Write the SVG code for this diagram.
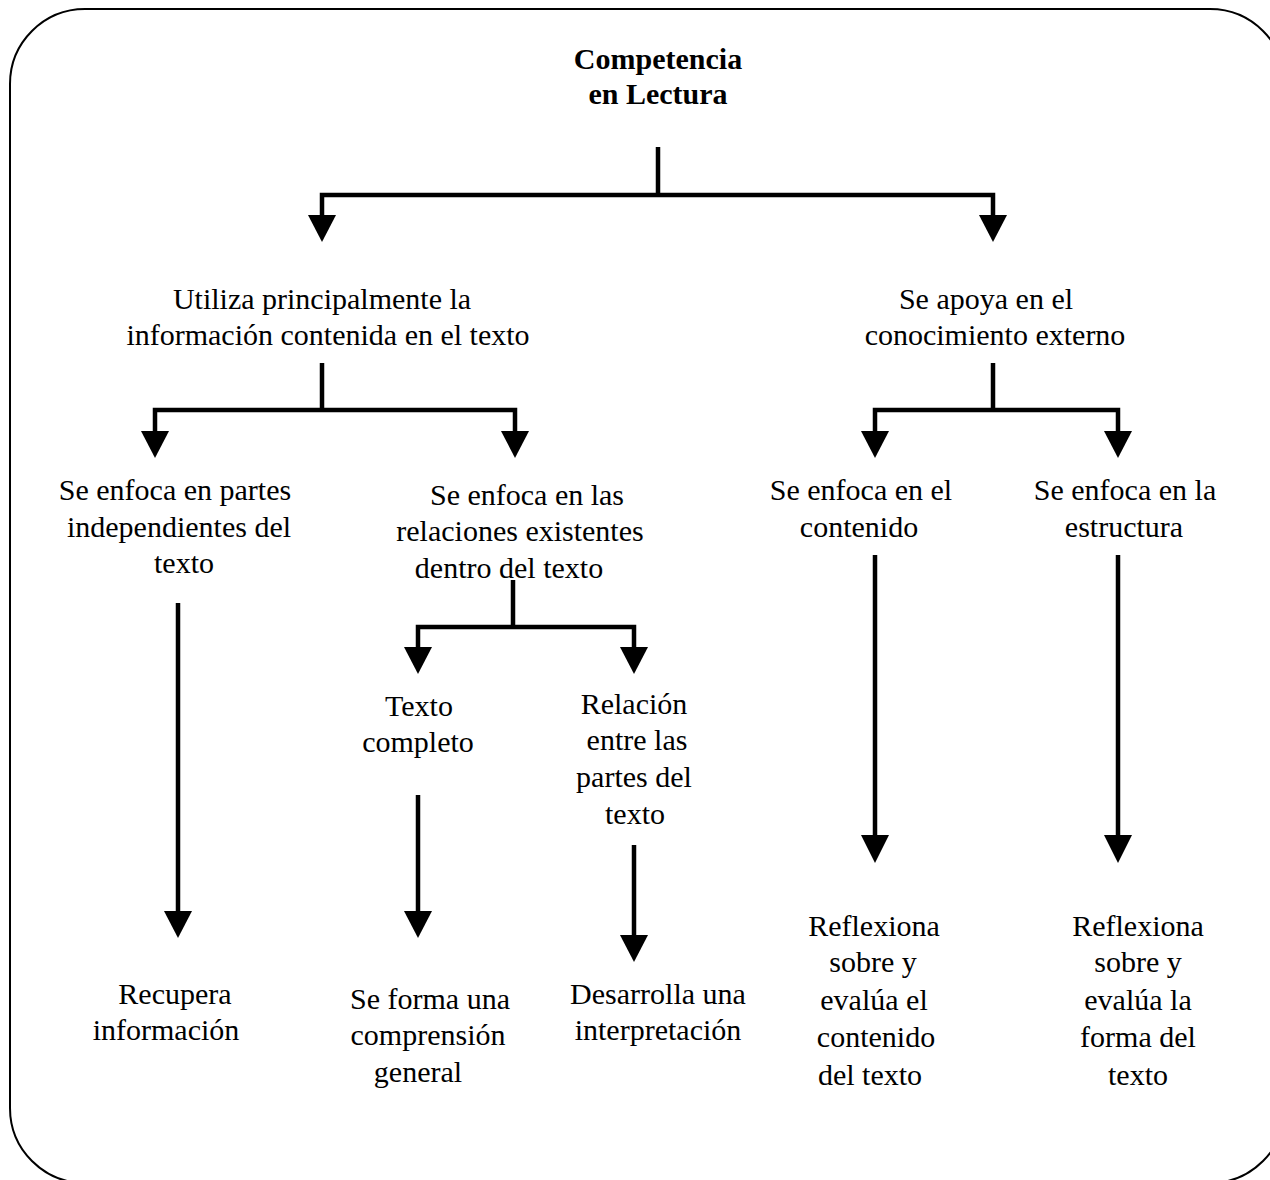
<svg xmlns="http://www.w3.org/2000/svg" width="1270" height="1180" viewBox="0 0 1270 1180">
<defs>
<style>
text{font-family:"Liberation Serif","Times New Roman",Times,serif;font-size:30px;fill:#000;text-anchor:middle}
.b{font-weight:bold}
.c{fill:none;stroke:#000;stroke-width:4.5}
.h{fill:#000;stroke:none}
</style>
</defs>
<rect x="10" y="9" width="1275" height="1174" rx="75" ry="75" fill="#fff" stroke="#000" stroke-width="2"/>
<g id="connectors">
<path class="c" d="M658 147V195M322 215V195H993V215"/>
<path class="h" d="M308 215H336L322 242Z"/>
<path class="h" d="M979 215H1007L993 242Z"/>
<path class="c" d="M322 363V410M155 432V410H515V432"/>
<path class="h" d="M141 431H169L155 458Z"/>
<path class="h" d="M501 431H529L515 458Z"/>
<path class="c" d="M993 363V410M875 432V410H1118V432"/>
<path class="h" d="M861 431H889L875 458Z"/>
<path class="h" d="M1104 431H1132L1118 458Z"/>
<path class="c" d="M513 580V627M418 648V627H634V648"/>
<path class="h" d="M404 647H432L418 674Z"/>
<path class="h" d="M620 647H648L634 674Z"/>
<path class="c" d="M178 603V912"/>
<path class="h" d="M164 911H192L178 938Z"/>
<path class="c" d="M418 795V912"/>
<path class="h" d="M404 911H432L418 938Z"/>
<path class="c" d="M634 845V936"/>
<path class="h" d="M620 935H648L634 962Z"/>
<path class="c" d="M875 555V836"/>
<path class="h" d="M861 835H889L875 863Z"/>
<path class="c" d="M1118 555V836"/>
<path class="h" d="M1104 835H1132L1118 863Z"/>
</g>
<g id="root"><text class="b" x="658" y="69">Competencia</text><text class="b" x="658" y="104">en Lectura</text></g>
<g id="n-info"><text x="322" y="309">Utiliza principalmente la</text><text x="328" y="345">información contenida en el texto</text></g>
<g id="n-ext"><text x="986" y="309">Se apoya en el</text><text x="995" y="345">conocimiento externo</text></g>
<g id="n-partes"><text x="175" y="500">Se enfoca en partes</text><text x="179" y="537">independientes del</text><text x="184" y="573">texto</text></g>
<g id="n-rel"><text x="527" y="505">Se enfoca en las</text><text x="520" y="541">relaciones existentes</text><text x="509" y="578">dentro del texto</text></g>
<g id="n-cont"><text x="861" y="500">Se enfoca en el</text><text x="859" y="537">contenido</text></g>
<g id="n-estr"><text x="1125" y="500">Se enfoca en la</text><text x="1124" y="537">estructura</text></g>
<g id="n-completo"><text x="419" y="716">Texto</text><text x="418" y="752">completo</text></g>
<g id="n-relpartes"><text x="634" y="714">Relación</text><text x="637" y="750">entre las</text><text x="634" y="787">partes del</text><text x="635" y="824">texto</text></g>
<g id="n-recupera"><text x="175" y="1004">Recupera</text><text x="166" y="1040">información</text></g>
<g id="n-forma"><text x="430" y="1009">Se forma una</text><text x="428" y="1045">comprensión</text><text x="418" y="1082">general</text></g>
<g id="n-desarrolla"><text x="658" y="1004">Desarrolla una</text><text x="658" y="1040">interpretación</text></g>
<g id="n-refcont"><text x="874" y="936">Reflexiona</text><text x="873" y="972">sobre y</text><text x="874" y="1010">evalúa el</text><text x="876" y="1047">contenido</text><text x="870" y="1085">del texto</text></g>
<g id="n-refforma"><text x="1138" y="936">Reflexiona</text><text x="1138" y="972">sobre y</text><text x="1138" y="1010">evalúa la</text><text x="1138" y="1047">forma del</text><text x="1138" y="1085">texto</text></g>
</svg>
